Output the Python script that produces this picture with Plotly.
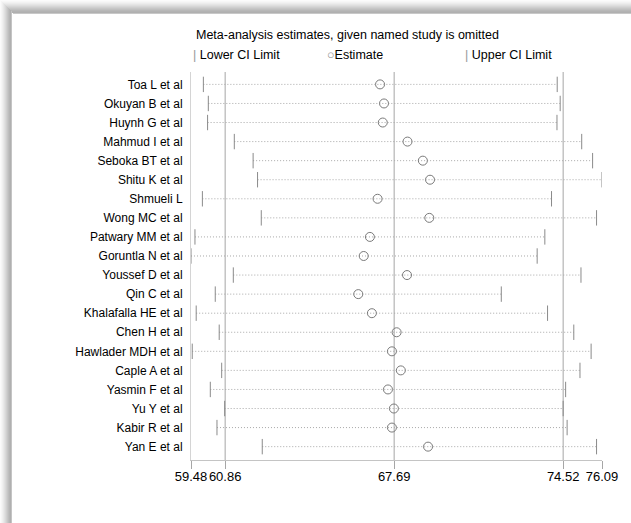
import plotly.graph_objects as go

# Leave-one-out sensitivity analysis: pooled estimate with each study omitted
studies = ["Toa L et al", "Okuyan B et al", "Huynh G et al", "Mahmud I et al",
           "Seboka BT et al", "Shitu K et al", "Shmueli L", "Wong MC et al",
           "Patwary MM et al", "Goruntla N et al", "Youssef D et al", "Qin C et al",
           "Khalafalla HE et al", "Chen H et al", "Hawlader MDH et al", "Caple A et al",
           "Yasmin F et al", "Yu Y et al", "Kabir R et al", "Yan E et al"]
lower = [59.98, 60.18, 60.15, 61.23, 61.99, 62.17, 59.94, 62.32, 59.64, 59.48,
         61.19, 60.46, 59.69, 60.62, 59.53, 60.72, 60.26, 60.84, 60.53, 62.36]
estimate = [67.12, 67.28, 67.23, 68.23, 68.85, 69.14, 67.02, 69.11, 66.71, 66.46,
            68.21, 66.24, 66.79, 67.79, 67.60, 67.96, 67.44, 67.68, 67.60, 69.06]
upper = [74.28, 74.40, 74.27, 75.27, 75.71, 76.09, 74.05, 75.87, 73.78, 73.47,
         75.24, 72.02, 73.89, 74.95, 75.65, 75.20, 74.62, 74.52, 74.68, 75.87]

# Combined estimate and its confidence interval (all studies included)
overall_lower = 60.86
overall_est = 67.69
overall_upper = 74.52
axis_ticks = [59.48, 60.86, 67.69, 74.52, 76.09]
axis_labels = ["59.48", "60.86", "67.69", "74.52", "76.09"]

W, H = 631, 523
ML, MR, MT, MB = 191, 29, 72, 63
PW, PH = W - ML - MR, H - MT - MB

FONT = "Liberation Sans, Arial, Helvetica, sans-serif"


def px_x(px):
    return (px - ML) / PW


def px_y(py):
    return (H - MB - py) / PH


rows = list(range(1, len(studies) + 1))

# dotted span from lower to upper limit
span_x, span_y = [], []
for r, lo, hi in zip(rows, lower, upper):
    span_x += [lo, hi, None]
    span_y += [r, r, None]

fig = go.Figure()
fig.add_trace(go.Scatter(x=span_x, y=span_y, mode="lines",
                         line=dict(color="#a8a8a8", width=1, dash="1px,2px"),
                         hoverinfo="skip", showlegend=False))
fig.add_trace(go.Scatter(x=lower, y=rows, mode="markers", name="Lower CI Limit",
                         marker=dict(symbol="line-ns", size=11,
                                     line=dict(color="#8a8a8a", width=1)),
                         showlegend=False))
fig.add_trace(go.Scatter(x=upper, y=rows, mode="markers", name="Upper CI Limit",
                         marker=dict(symbol="line-ns", size=11,
                                     line=dict(color="#8a8a8a", width=1)),
                         showlegend=False))
fig.add_trace(go.Scatter(x=estimate, y=rows, mode="markers", name="Estimate",
                         marker=dict(symbol="circle-open", size=9,
                                     color="#7a7a7a", line=dict(color="#7a7a7a", width=1)),
                         showlegend=False))

shapes = []
# reference lines at the combined estimate and CI limits
for v in (overall_lower, overall_est, overall_upper):
    shapes.append(dict(type="line", xref="x", yref="paper", x0=v, x1=v, y0=0, y1=1,
                       line=dict(color="#a6a6a6", width=1), layer="below"))

# soft shadow along the top and left edges of the panel
top_shades = ["#fbfbfb", "#f7f7f7", "#f2f2f2", "#ececec", "#e5e5e5", "#dedede",
              "#d6d6d6", "#cecece", "#c6c6c6", "#bfbfbf", "#b8b8b8", "#b3b3b3",
              "#b0b0b0", "#c8c8c8"]
for k, c in enumerate(top_shades):
    shapes.append(dict(type="rect", xref="paper", yref="paper",
                       x0=px_x(k), x1=px_x(W), y0=px_y(k + 1), y1=px_y(k),
                       fillcolor=c, line=dict(width=0)))
left_shades = ["#fbfbfb", "#f6f6f6", "#f0f0f0", "#e9e9e9", "#e1e1e1", "#d9d9d9",
               "#d0d0d0", "#c7c7c7", "#bebebe", "#b6b6b6", "#b0b0b0", "#c4c4c4"]
for k, c in enumerate(left_shades):
    shapes.append(dict(type="rect", xref="paper", yref="paper",
                       x0=px_x(k), x1=px_x(k + 1), y0=px_y(H), y1=px_y(k),
                       fillcolor=c, line=dict(width=0)))

HEAD = dict(family=FONT, size=12.5, color="#000")
annotations = [
    dict(text="Meta-analysis estimates, given named study is omitted",
         xref="paper", yref="paper", x=px_x(194), y=px_y(35), xanchor="left",
         yanchor="middle", showarrow=False, font=HEAD),
    dict(text="<span style='color:#999999'>|</span> Lower CI Limit",
         xref="paper", yref="paper", x=px_x(191), y=px_y(55), xanchor="left",
         yanchor="middle", showarrow=False, font=HEAD),
    dict(text="<span style='color:#888888'>○</span>Estimate",
         xref="paper", yref="paper", x=px_x(325), y=px_y(55), xanchor="left",
         yanchor="middle", showarrow=False, font=HEAD),
    dict(text="<span style='color:#999999'>|</span> Upper CI Limit",
         xref="paper", yref="paper", x=px_x(463), y=px_y(55), xanchor="left",
         yanchor="middle", showarrow=False, font=HEAD),
]

fig.update_layout(
    width=W, height=H,
    margin=dict(l=ML, r=MR, t=MT, b=MB),
    paper_bgcolor="white", plot_bgcolor="white",
    font=dict(family=FONT, size=12, color="#000"),
    shapes=shapes, annotations=annotations,
    xaxis=dict(range=[axis_ticks[0], axis_ticks[-1]], tickvals=axis_ticks,
               ticktext=axis_labels, showgrid=False, zeroline=False,
               showline=True, linecolor="#c4c4c4", linewidth=1,
               ticks="outside", ticklen=8, tickcolor="#a6a6a6", tickwidth=1,
               tickangle=0, ticklabelstandoff=-4,
               tickfont=dict(family=FONT, size=13, color="#000")),
    yaxis=dict(range=[len(studies) + 0.7, 0.35], tickvals=rows, ticktext=studies,
               showgrid=False, zeroline=False, showline=True,
               linecolor="#d4d4d4", linewidth=1, ticks="",
               ticklabelstandoff=5,
               tickfont=dict(family=FONT, size=12, color="#000")),
)

fig.write_html("out.html")
